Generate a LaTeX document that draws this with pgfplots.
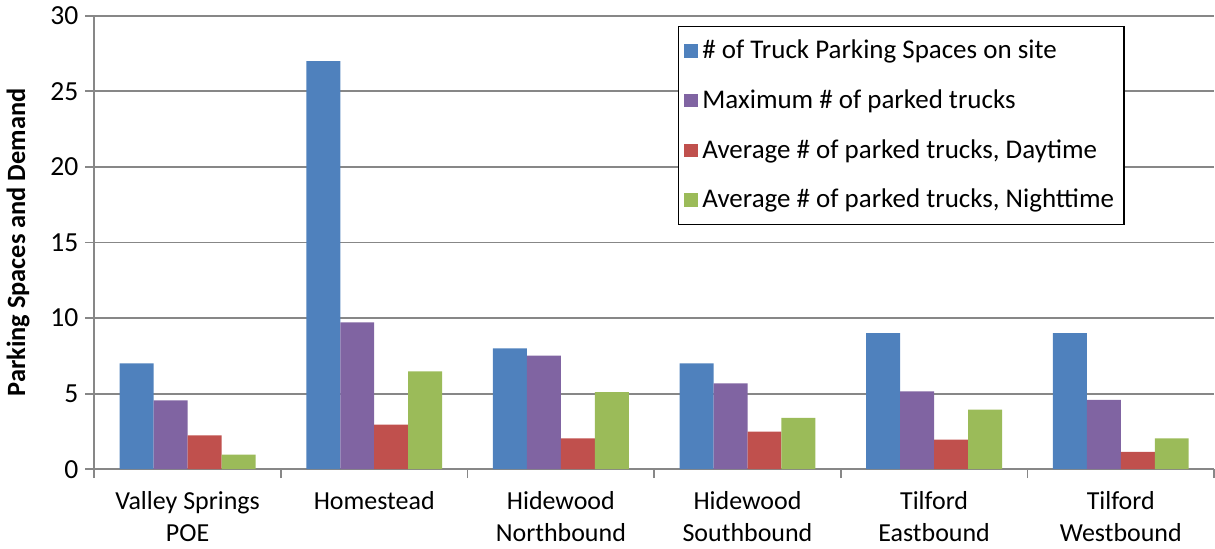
\documentclass[border=0pt]{standalone}
\usepackage{pgfplots}
\pgfplotsset{compat=1.18}
\usepackage{fontspec}
\setmainfont{Carlito}

\definecolor{cblue}{HTML}{4F81BD}
\definecolor{cpurple}{HTML}{8064A2}
\definecolor{cred}{HTML}{C0504D}
\definecolor{cgreen}{HTML}{9BBB59}
\definecolor{gridgray}{HTML}{878787}

\begin{document}
\begin{tikzpicture}
  \begin{axis}[
    scale only axis, width=560.5bp, height=227bp,
    ybar=0pt, bar width=17bp,
    xmin=-0.5, xmax=5.5, ymin=0, ymax=30,
    ytick={0,5,...,30},
    xtick={-0.5,0.5,...,5.5},
    x tick label as interval,
    xticklabels={{Valley Springs\\POE},{Homestead},{Hidewood\\Northbound},
      {Hidewood\\Southbound},{Tilford\\Eastbound},{Tilford\\Westbound}},
    x tick label style={align=center, font=\fontsize{13bp}{16bp}\selectfont,
      yshift=-3bp},
    y tick label style={font=\fontsize{13.8bp}{15bp}\selectfont},
    /pgf/number format/assume math mode=true,
    axis x line*=bottom, axis y line*=left,
    axis line style={gridgray, line width=0.9bp},
    tick style={gridgray, line width=0.9bp},
    tick align=outside, major tick length=4.5bp,
    ymajorgrids, major grid style={gridgray, line width=0.9bp},
    ylabel={\bfseries Parking Spaces and Demand},
    ylabel style={at={(axis description cs:-0.068,0.5)}, anchor=center,
      font=\fontsize{13.2bp}{15bp}\selectfont},
    legend cell align=left,
    legend style={at={(0.92,0.978)}, anchor=north east, draw=black,
      line width=0.6bp, font=\fontsize{13.5bp}{15bp}\selectfont,
      row sep=10bp, inner ysep=5bp, inner xsep=3bp},
    legend image code/.code={\fill[#1] (0bp,-3.3bp) rectangle (7bp,3.3bp);},
  ]
    \addplot[fill=cblue, draw=none] coordinates
      {(0,7) (1,27) (2,8) (3,7) (4,9) (5,9)};
    \addplot[fill=cpurple, draw=none] coordinates
      {(0,4.55) (1,9.71) (2,7.51) (3,5.68) (4,5.15) (5,4.59)};
    \addplot[fill=cred, draw=none] coordinates
      {(0,2.24) (1,2.94) (2,2.04) (3,2.48) (4,1.95) (5,1.14)};
    \addplot[fill=cgreen, draw=none] coordinates
      {(0,0.96) (1,6.47) (2,5.09) (3,3.40) (4,3.94) (5,2.04)};
    \legend{\# of Truck Parking Spaces on site,
      Maximum \# of parked trucks,
      {Average \# of parked trucks, Daytime},
      {Average \# of parked trucks, Nighttime}}
  \end{axis}
\end{tikzpicture}
\end{document}
